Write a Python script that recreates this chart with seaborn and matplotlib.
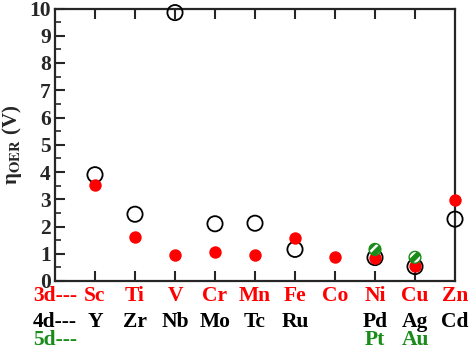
import matplotlib
matplotlib.use("Agg")
import matplotlib.pyplot as plt
import seaborn as sns
import pandas as pd
import numpy as np

sns.set_style("ticks")
plt.rcParams['font.family'] = ['Liberation Serif', 'DejaVu Serif']
plt.rcParams['font.weight'] = 'bold'
plt.rcParams['mathtext.fontset'] = 'stix'
plt.rcParams['hatch.color'] = 'white'
plt.rcParams['hatch.linewidth'] = 1.8

# Data
pos_3d = [1, 2, 3, 4, 5, 6, 7, 8, 9, 10]
labels_3d = ["Sc", "Ti", "V", "Cr", "Mn", "Fe", "Co", "Ni", "Cu", "Zn"]
eta_3d = [3.53, 1.61, 0.96, 1.07, 0.94, 1.57, 0.88, 0.84, 0.54, 2.96]

pos_4d = [1, 2, 3, 4, 5, 6, 8, 9, 10]
labels_4d = ["Y", "Zr", "Nb", "Mo", "Tc", "Ru", "Pd", "Ag", "Cd"]
eta_4d = [3.90, 2.45, 9.85, 2.10, 2.12, 1.16, 0.86, 0.53, 2.27]

pos_5d = [8, 9]
labels_5d = ["Pt", "Au"]
eta_5d = [1.16, 0.87]

RED = '#ff0000'
GREEN = '#1a8c1a'

fig = plt.figure(figsize=(4.69, 3.49), dpi=100)
ax = fig.add_axes([55/469, 1-281/349, 400/469, 272.5/349])

df4 = pd.DataFrame({"x": pos_4d, "y": eta_4d})
df3 = pd.DataFrame({"x": pos_3d, "y": eta_3d})
df5 = pd.DataFrame({"x": pos_5d, "y": eta_5d})

sns.scatterplot(data=df4, x="x", y="y", ax=ax, s=120, facecolor='none',
                edgecolor='black', linewidth=1.3, clip_on=False, zorder=3)
sns.scatterplot(data=df3, x="x", y="y", ax=ax, s=80, color=RED,
                edgecolor=RED, linewidth=0, clip_on=False, zorder=4)
# hatched green markers: white hatch on green fill, then green outline
ax.scatter(df5["x"], df5["y"], s=72, facecolor=GREEN, edgecolor='white',
           linewidth=0, hatch='///', clip_on=False, zorder=5)
sns.scatterplot(data=df5, x="x", y="y", ax=ax, s=72, facecolor='none',
                edgecolor=GREEN, linewidth=1.0, clip_on=False, zorder=6)

ax.set_xlim(0, 10)
ax.set_ylim(0, 10)
ax.set_xlabel("")
ax.set_ylabel("η" + r"$_{\mathbf{OER}}$ (V)", fontsize=15, labelpad=4,
              fontweight='bold')

ax.set_xticks(range(1, 10))
ax.set_xticklabels([])
ax.set_yticks(range(0, 11))
ax.set_yticks(np.arange(0.5, 10, 1.0), minor=True)
ax.tick_params(axis='x', which='major', direction='in', length=7, width=1.5,
               top=True, bottom=True)
ax.tick_params(axis='y', which='major', direction='in', length=7, width=1.5,
               left=True, right=False, labelsize=15.5, pad=3)
ax.tick_params(axis='y', which='minor', direction='in', length=4, width=1.2,
               left=True, right=False)
for lab in ax.get_yticklabels():
    lab.set_fontweight('bold')
for sp in ax.spines.values():
    sp.set_linewidth(1.6)
    sp.set_visible(True)
    sp.set_zorder(2)

trans = ax.get_xaxis_transform()
row_y = [-20/272.5, -46/272.5, -64/272.5]
FS = 15.5
ax.text(0, row_y[0], "3d---", color=RED, fontsize=FS, fontweight='bold',
        ha='center', va='baseline', transform=trans)
ax.text(0, row_y[1], "4d---", color='black', fontsize=FS, fontweight='bold',
        ha='center', va='baseline', transform=trans)
ax.text(0, row_y[2], "5d---", color=GREEN, fontsize=FS, fontweight='bold',
        ha='center', va='baseline', transform=trans)
for p, l in zip(pos_3d, labels_3d):
    ax.text(p, row_y[0], l, color=RED, fontsize=FS, fontweight='bold',
            ha='center', va='baseline', transform=trans)
for p, l in zip(pos_4d, labels_4d):
    ax.text(p, row_y[1], l, color='black', fontsize=FS, fontweight='bold',
            ha='center', va='baseline', transform=trans)
for p, l in zip(pos_5d, labels_5d):
    ax.text(p, row_y[2], l, color=GREEN, fontsize=FS, fontweight='bold',
            ha='center', va='baseline', transform=trans)

fig.savefig("out.png", dpi=100)
